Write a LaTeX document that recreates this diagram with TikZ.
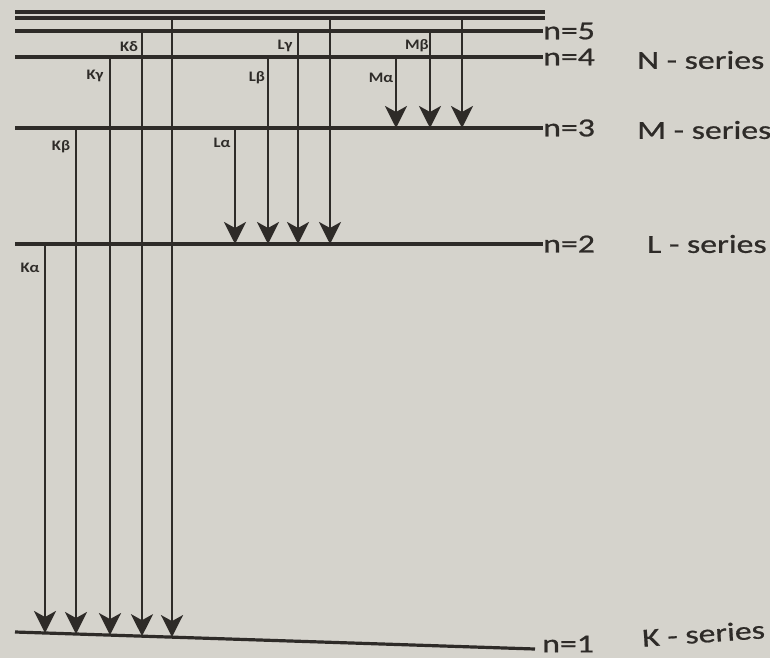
\documentclass[tikz,border=0pt]{standalone}
\usepackage{fontspec}
\setmainfont{Carlito}
\newfontfamily\labfont[FakeStretch=1.3,FakeBold=0.8]{Carlito}
\newfontfamily\tinyfont[FakeStretch=1.15]{Carlito}
\usetikzlibrary{arrows.meta}
\definecolor{paper}{HTML}{D5D3CC}
\definecolor{ink}{HTML}{2E2B28}
\begin{document}
\begin{tikzpicture}[x=1pt,y=-1pt,
  level/.style={draw=ink, line width=3.2pt},
  trans/.style={draw=ink, line width=2.6pt, -{Stealth[length=22pt,width=22pt,inset=6pt,fill=ink]}},
  nlab/.style={anchor=west, text=ink, inner sep=0pt, font=\labfont\fontsize{26}{26}\selectfont},
  serlab/.style={anchor=west, text=ink, inner sep=0pt, font=\labfont\fontsize{26}{26}\selectfont},
  tlab/.style={text=ink, inner sep=0pt, font=\tinyfont\bfseries\fontsize{14.5}{14.5}\selectfont}]
\fill[paper] (0,0) rectangle (770,658);
\useasboundingbox (0,0) rectangle (770,658);

% level labels
\node[nlab] (l5) at (543,31) {n=5};
\node[nlab] (l4) at (543,57) {n=4};
\node[nlab] (l3) at (543,128) {n=3};
\node[nlab] (l2) at (543,244) {n=2};
\node[nlab] (l1) at (542,644) {n=1};

% series labels
\node[serlab] (sN) at (637,60) {N - series};
\node[serlab] (sM) at (637,130) {M - series};
\node[serlab] (sL) at (647,244) {L - series};
\node[serlab, rotate=4] (sK) at (642,638) {K - series};

% level lines
\coordinate (t1a) at (15,12);  \coordinate (t1b) at (545,12);
\coordinate (t2a) at (15,18);  \coordinate (t2b) at (545,18);
\coordinate (n5a) at (15,31);
\coordinate (n4a) at (15,57);
\coordinate (n3a) at (15,128);
\coordinate (n2a) at (15,244);
\coordinate (n1a) at (15,632);  \coordinate (n1b) at (535,649);
\draw[level] (t1a) -- (t1b);
\draw[level] (t2a) -- (t2b);
\draw[level] (n5a) -- (l5.west);
\draw[level] (n4a) -- (l4.west);
\draw[level] (n3a) -- (l3.west);
\draw[level] (n2a) -- (l2.west);
\draw[level] (n1a) -- (n1b);

% K series
\coordinate (ka0) at (45,244);  \coordinate (ka1) at (45,633.0);
\coordinate (kb0) at (76,128);  \coordinate (kb1) at (76,634.0);
\coordinate (kc0) at (110,57);  \coordinate (kc1) at (110,635.1);
\coordinate (kd0) at (142,31);  \coordinate (kd1) at (142,636.2);
\coordinate (ke0) at (172,18);  \coordinate (ke1) at (172,637.1);
\draw[trans] (ka0) -- (ka1);
\draw[trans] (kb0) -- (kb1);
\draw[trans] (kc0) -- (kc1);
\draw[trans] (kd0) -- (kd1);
\draw[trans] (ke0) -- (ke1);

% L series
\coordinate (la0) at (235,128); \coordinate (la1) at (235,244);
\coordinate (lb0) at (268,57);  \coordinate (lb1) at (268,244);
\coordinate (lc0) at (298,31);  \coordinate (lc1) at (298,244);
\coordinate (ld0) at (330,18);  \coordinate (ld1) at (330,244);
\draw[trans] (la0) -- (la1);
\draw[trans] (lb0) -- (lb1);
\draw[trans] (lc0) -- (lc1);
\draw[trans] (ld0) -- (ld1);

% M series
\coordinate (ma0) at (396,57);  \coordinate (ma1) at (396,128);
\coordinate (mb0) at (430,31);  \coordinate (mb1) at (430,128);
\coordinate (mc0) at (462,18);  \coordinate (mc1) at (462,128);
\draw[trans] (ma0) -- (ma1);
\draw[trans] (mb0) -- (mb1);
\draw[trans] (mc0) -- (mc1);

% transition labels
\node[tlab] (tka) at (30,268) {Kα};
\node[tlab] (tkb) at (61,147) {Kβ};
\node[tlab] (tkc) at (95,76) {Kγ};
\node[tlab] (tkd) at (129,47) {Kδ};
\node[tlab] (tla) at (222,143) {Lα};
\node[tlab] (tlb) at (257,78) {Lβ};
\node[tlab] (tlc) at (285,46) {Lγ};
\node[tlab] (tma) at (381,78) {Mα};
\node[tlab] (tmb) at (417,46) {Mβ};
\end{tikzpicture}
\end{document}
